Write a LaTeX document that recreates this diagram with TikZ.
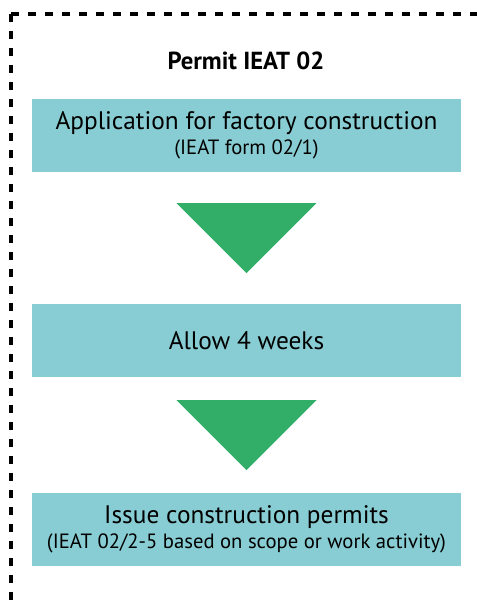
\documentclass[tikz,border=0pt]{standalone}
\usepackage{fontspec}
\usepackage{xcolor}
\setmainfont{PT Sans}
\usetikzlibrary{positioning}

\definecolor{boxteal}{HTML}{88CDD3}
\definecolor{arrowgreen}{HTML}{33AE69}

\begin{document}
\begin{tikzpicture}[x=0.75pt,y=-0.75pt,line cap=butt,
    stepbox/.style={fill=boxteal,minimum width=321.75pt,minimum height=54.75pt,inner sep=0pt,align=center,
        font=\fontsize{19}{18.75}\selectfont},
    frame/.style={line width=2.6pt,dash pattern=on 6pt off 6.75pt}]
\clip (0,0) rectangle (477,604);
\fill[white] (0,0) rectangle (477,604);

% dashed frame, runs out of the picture at the right and the bottom
\coordinate (corner) at (11,14);
\draw[frame] (corner) -- (11,640);
\draw[frame] (corner) -- (500,14);

\node[font=\bfseries\fontsize{18.5}{20}\selectfont] (title) at (246,61) {Permit IEAT 02};

\node[stepbox] (apply) at (246.5,135.5) {Application for factory construction\\
    {\fontsize{15.5}{18.75}\selectfont (IEAT form 02/1)}};
\node[stepbox] (wait) at (246.5,340.5) {Allow 4 weeks};
\node[stepbox] (issue) at (246.5,529.5) {Issue construction permits\\
    {\fontsize{15.5}{18.75}\selectfont (IEAT 02/2-5 based on scope or work activity)}};

% green arrow heads between the steps
\foreach \a/\b in {apply/wait,wait/issue} {
    \path (\a.south) -- (\b.north) coordinate[pos=0.5] (mid\a);
    \fill[arrowgreen] ([xshift=-52.5pt,yshift=26.25pt]mid\a) -- ([xshift=52.5pt,yshift=26.25pt]mid\a)
        -- ([yshift=-26.25pt]mid\a) -- cycle;
}
\end{tikzpicture}
\end{document}
